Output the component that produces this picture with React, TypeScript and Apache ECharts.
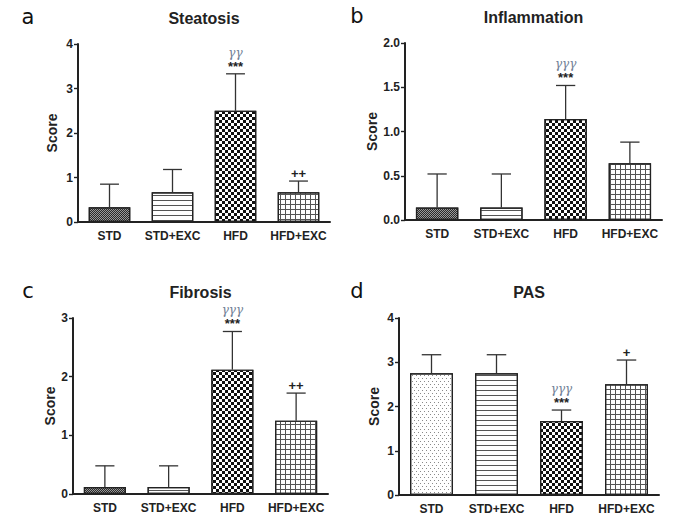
import React, { useEffect, useRef } from "react";
import * as echarts from "echarts";

const categories = ["STD", "STD+EXC", "HFD", "HFD+EXC"];

const steatosisMean = [0.33, 0.67, 2.5, 0.67];
const steatosisUpper = [0.85, 1.18, 3.33, 0.92];
const steatosisSig = ["", "", "***", "++"];
const steatosisGamma = ["", "", "γγ", ""];

const inflammationMean = [0.14, 0.14, 1.14, 0.64];
const inflammationUpper = [0.52, 0.52, 1.52, 0.88];
const inflammationSig = ["", "", "***", ""];
const inflammationGamma = ["", "", "γγγ", ""];

const fibrosisMean = [0.12, 0.12, 2.12, 1.25];
const fibrosisUpper = [0.48, 0.48, 2.77, 1.72];
const fibrosisSig = ["", "", "***", "++"];
const fibrosisGamma = ["", "", "γγγ", ""];

const pasMean = [2.75, 2.75, 1.67, 2.5];
const pasUpper = [3.17, 3.17, 1.92, 3.05];
const pasSig = ["", "", "***", "+"];
const pasGamma = ["", "", "γγγ", ""];

const FONT = "'Liberation Sans', Arial, sans-serif";
const INK = "#222";

const decalDense = {
  fill: "#9a9a9a",
  decal: {
    symbol: "rect",
    symbolSize: 1,
    color: "#2a2a2a",
    dashArrayX: [
      [1, 1],
      [0, 1, 1, 0],
    ],
    dashArrayY: [1, 0],
  },
};
const decalChecker = {
  fill: "#fff",
  decal: {
    symbol: "rect",
    symbolSize: 1,
    color: "#111",
    dashArrayX: [
      [3, 3],
      [0, 3, 3, 0],
    ],
    dashArrayY: [3, 0],
  },
};
const decalLines = {
  fill: "#fff",
  decal: {
    symbol: "rect",
    symbolSize: 1,
    color: "#555",
    dashArrayX: [1, 0],
    dashArrayY: [1, 4],
  },
};
const decalGrid = {
  fill: "#fff",
  decal: {
    symbol: "rect",
    symbolSize: 1,
    color: "#555",
    dashArrayX: [
      [1, 0],
      [1, 4],
      [1, 4],
      [1, 4],
      [1, 4],
    ],
    dashArrayY: [1, 0],
  },
};
const decalDots = {
  fill: "#fff",
  decal: {
    symbol: "rect",
    symbolSize: 1,
    color: "#8a8a8a",
    dashArrayX: [
      [1, 3],
      [0, 2, 1, 1],
    ],
    dashArrayY: [1, 2],
  },
};

type Panel = {
  letter: string;
  title: string;
  grid: { left: number; top: number; width: number; height: number };
  nameGap: number;
  max: number;
  interval: number;
  decimals: number;
  mean: number[];
  upper: number[];
  sig: string[];
  gamma: string[];
  decals: any[];
};

const panels: Panel[] = [
  {
    letter: "a",
    title: "Steatosis",
    grid: { left: 78, top: 44, width: 252, height: 178 },
    nameGap: 19,
    max: 4,
    interval: 1,
    decimals: 0,
    mean: steatosisMean,
    upper: steatosisUpper,
    sig: steatosisSig,
    gamma: steatosisGamma,
    decals: [decalDense, decalLines, decalChecker, decalGrid],
  },
  {
    letter: "b",
    title: "Inflammation",
    grid: { left: 405, top: 43, width: 257, height: 177 },
    nameGap: 24,
    max: 2,
    interval: 0.5,
    decimals: 1,
    mean: inflammationMean,
    upper: inflammationUpper,
    sig: inflammationSig,
    gamma: inflammationGamma,
    decals: [decalDense, decalLines, decalChecker, decalGrid],
  },
  {
    letter: "c",
    title: "Fibrosis",
    grid: { left: 73, top: 318, width: 255, height: 176 },
    nameGap: 14,
    max: 3,
    interval: 1,
    decimals: 0,
    mean: fibrosisMean,
    upper: fibrosisUpper,
    sig: fibrosisSig,
    gamma: fibrosisGamma,
    decals: [decalDense, decalLines, decalChecker, decalGrid],
  },
  {
    letter: "d",
    title: "PAS",
    grid: { left: 399, top: 318, width: 260, height: 177 },
    nameGap: 18,
    max: 4,
    interval: 1,
    decimals: 0,
    mean: pasMean,
    upper: pasUpper,
    sig: pasSig,
    gamma: pasGamma,
    decals: [decalDots, decalLines, decalChecker, decalGrid],
  },
];

function buildOption() {
  const grid: any[] = [];
  const xAxis: any[] = [];
  const yAxis: any[] = [];
  const series: any[] = [];
  const graphic: any[] = [];

  panels.forEach((p, i) => {
    grid.push({ ...p.grid, containLabel: false });
    xAxis.push({
      type: "category",
      gridIndex: i,
      data: categories,
      axisLine: { lineStyle: { color: INK, width: 2 } },
      axisTick: { alignWithLabel: true, length: 4, lineStyle: { color: INK, width: 1.4 } },
      axisLabel: {
        interval: 0,
        color: INK,
        fontFamily: FONT,
        fontWeight: "bold",
        fontSize: 12,
        margin: 8,
      },
    });
    yAxis.push({
      type: "value",
      gridIndex: i,
      min: 0,
      max: p.max,
      interval: p.interval,
      splitLine: { show: false },
      axisLine: { show: true, lineStyle: { color: INK, width: 2 } },
      axisTick: { show: true, length: 4, lineStyle: { color: INK, width: 1.4 } },
      axisLabel: {
        color: INK,
        fontFamily: FONT,
        fontWeight: "bold",
        fontSize: 12,
        margin: 5,
        formatter: (v: number) => v.toFixed(p.decimals),
      },
      name: "Score",
      nameLocation: "middle",
      nameGap: p.nameGap,
      nameTextStyle: { color: INK, fontFamily: FONT, fontWeight: "bold", fontSize: 14 },
    });
    series.push({
      type: "bar",
      xAxisIndex: i,
      yAxisIndex: i,
      barWidth: "66%",
      itemStyle: { color: "#fff", borderColor: INK, borderWidth: 1.2 },
      data: p.mean.map((v, k) => ({
        value: v,
        itemStyle: { color: p.decals[k].fill, decal: p.decals[k].decal },
      })),
      z: 2,
    });
    series.push({
      type: "custom",
      xAxisIndex: i,
      yAxisIndex: i,
      z: 3,
      data: p.mean.map((v, k) => [k, v, p.upper[k]]),
      renderItem: (params: any, api: any) => {
        const k = params.dataIndex;
        const x = api.value(0);
        const p0 = api.coord([x, api.value(1)]);
        const p1 = api.coord([x, api.value(2)]);
        const band = api.size([1, 0])[0];
        const half = band * 0.15;
        const stroke = { stroke: "#333", lineWidth: 1.3 };
        const children: any[] = [
          { type: "line", shape: { x1: p0[0], y1: p0[1], x2: p1[0], y2: p1[1] }, style: stroke },
          { type: "line", shape: { x1: p1[0] - half, y1: p1[1], x2: p1[0] + half, y2: p1[1] }, style: stroke },
        ];
        if (p.sig[k]) {
          children.push({
            type: "text",
            x: p1[0],
            y: p1[1] - 1,
            style: {
              text: p.sig[k],
              fill: INK,
              font: `bold 13px ${FONT}`,
              align: "center",
              verticalAlign: "bottom",
            },
          });
        }
        if (p.gamma[k]) {
          children.push({
            type: "text",
            x: p1[0],
            y: p1[1] - 15,
            style: {
              text: p.gamma[k],
              fill: "#6f8096",
              font: `italic 12px 'DejaVu Serif', serif`,
              align: "center",
              verticalAlign: "bottom",
            },
          });
        }
        return { type: "group", children };
      },
    });
    const cx = p.grid.left + p.grid.width / 2;
    graphic.push({
      type: "text",
      x: cx,
      y: p.grid.top - 26,
      style: {
        text: p.title,
        fill: INK,
        font: `bold 16px ${FONT}`,
        align: "center",
        verticalAlign: "middle",
      },
    });
    graphic.push({
      type: "text",
      x: i % 2 === 0 ? 28 : 357,
      y: p.grid.top - 27,
      style: {
        text: p.letter,
        fill: "#111",
        font: `21px 'DejaVu Sans', sans-serif`,
        align: "center",
        verticalAlign: "middle",
      },
    });
  });

  return { animation: false, backgroundColor: "#fff", grid, xAxis, yAxis, series, graphic };
}

export default function App() {
  const ref = useRef<HTMLDivElement>(null);
  useEffect(() => {
    if (!ref.current) return;
    const chart = echarts.init(ref.current, undefined, { renderer: "svg" });
    chart.setOption(buildOption() as any);
    return () => chart.dispose();
  }, []);
  return (
    <div
      ref={ref}
      style={{ position: "absolute", left: 0, top: 0, width: 674, height: 523, background: "#fff" }}
    />
  );
}
